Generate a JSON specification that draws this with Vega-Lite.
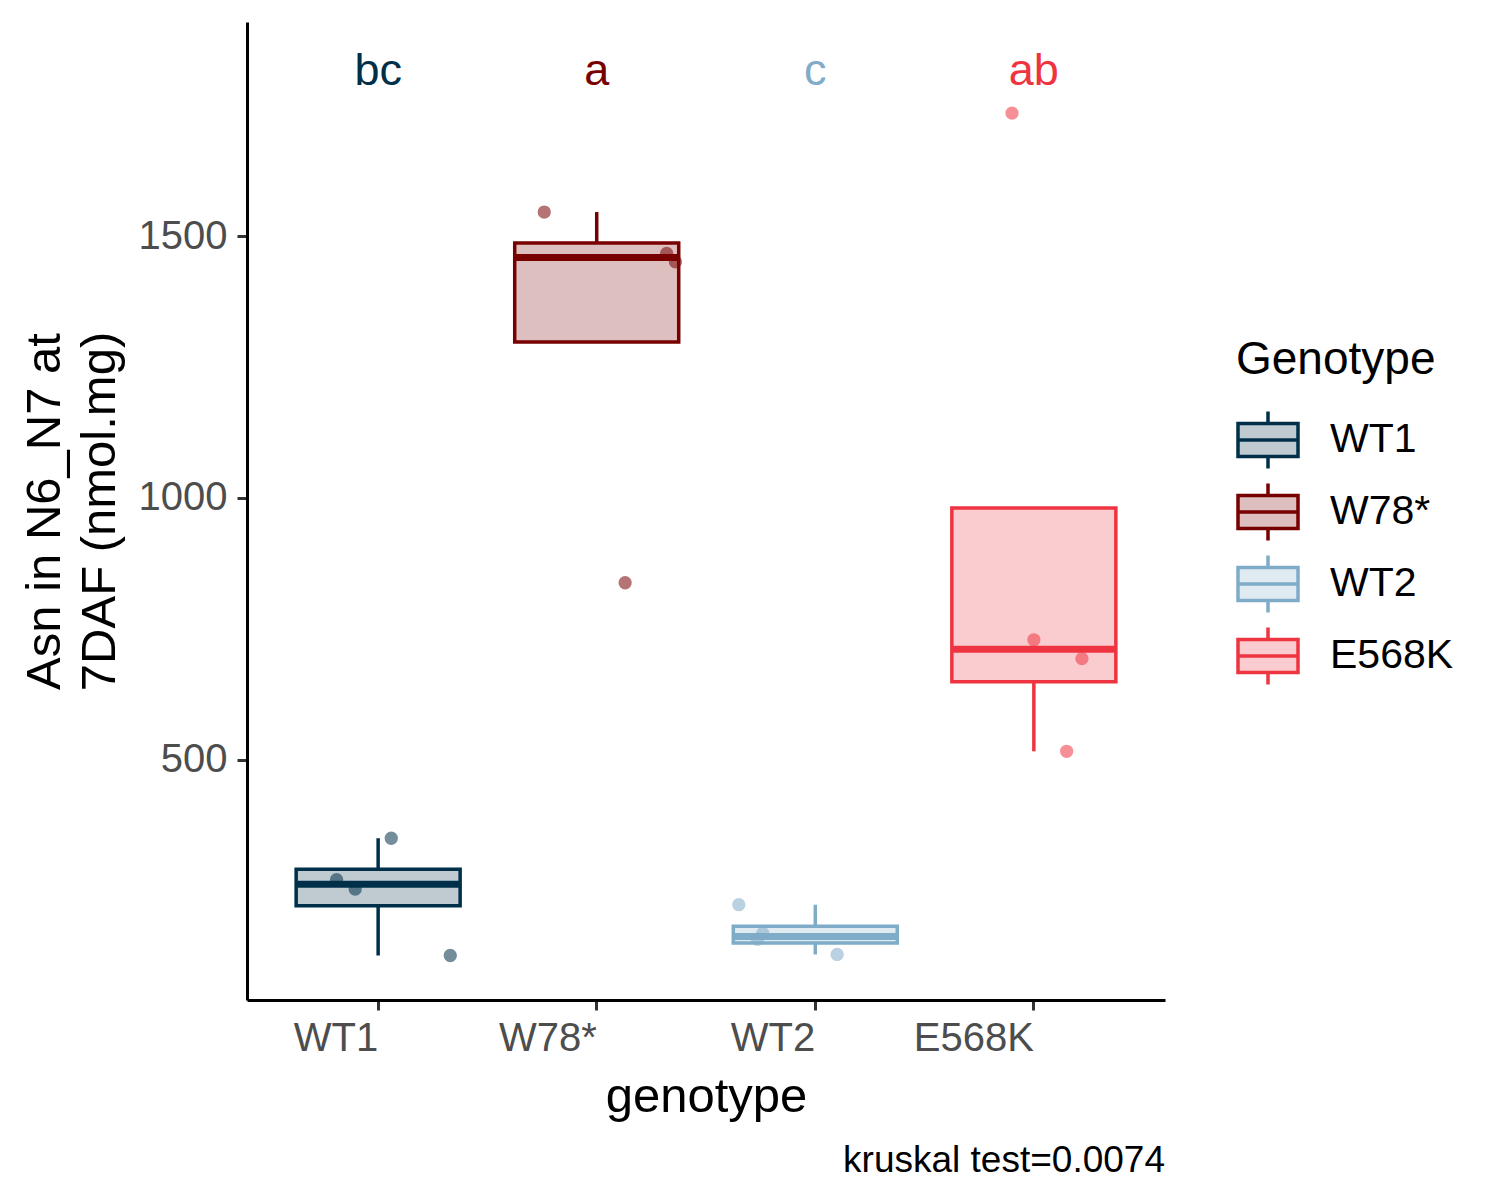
{
  "$schema": "https://vega.github.io/schema/vega-lite/v6.json",
  "width": 918,
  "height": 978,
  "autosize": {"type": "none"},
  "padding": {"left": 247, "top": 22, "right": 335, "bottom": 200},
  "datasets": {
    "asn": [
      {"genotype": "WT1", "value": 350, "jitter": 0.06},
      {"genotype": "WT1", "value": 271, "jitter": -0.19},
      {"genotype": "WT1", "value": 253, "jitter": -0.105},
      {"genotype": "WT1", "value": 126, "jitter": 0.33},
      {"genotype": "W78*", "value": 1546, "jitter": -0.24},
      {"genotype": "W78*", "value": 1467, "jitter": 0.32},
      {"genotype": "W78*", "value": 1451, "jitter": 0.36},
      {"genotype": "W78*", "value": 838, "jitter": 0.13},
      {"genotype": "WT2", "value": 223, "jitter": -0.35},
      {"genotype": "WT2", "value": 168, "jitter": -0.24},
      {"genotype": "WT2", "value": 157, "jitter": -0.265},
      {"genotype": "WT2", "value": 128, "jitter": 0.1},
      {"genotype": "E568K", "value": 1735, "jitter": -0.1},
      {"genotype": "E568K", "value": 729, "jitter": 0.0},
      {"genotype": "E568K", "value": 693, "jitter": 0.22},
      {"genotype": "E568K", "value": 516, "jitter": 0.15}
    ],
    "letters": [
      {"genotype": "WT1", "letter": "bc"},
      {"genotype": "W78*", "letter": "a"},
      {"genotype": "WT2", "letter": "c"},
      {"genotype": "E568K", "letter": "ab"}
    ]
  },
  "data": {"name": "asn"},
  "title": {
    "text": "kruskal test=0.0074",
    "orient": "bottom",
    "anchor": "end",
    "frame": "group",
    "fontSize": 37,
    "fontWeight": "normal",
    "color": "black",
    "offset": 22
  },
  "resolve": {"scale": {"x": "independent"}},
  "layer": [
    {
      "transform": [
        {
          "joinaggregate": [
            {"op": "q1", "field": "value", "as": "q1"},
            {"op": "q3", "field": "value", "as": "q3"},
            {"op": "median", "field": "value", "as": "med"}
          ],
          "groupby": ["genotype"]
        },
        {"filter": "datum.value >= datum.q1 - 1.5 * (datum.q3 - datum.q1) && datum.value <= datum.q3 + 1.5 * (datum.q3 - datum.q1)"},
        {
          "aggregate": [
            {"op": "min", "field": "value", "as": "lo"},
            {"op": "max", "field": "value", "as": "hi"},
            {"op": "max", "field": "q1", "as": "q1"},
            {"op": "max", "field": "q3", "as": "q3"},
            {"op": "max", "field": "med", "as": "med"}
          ],
          "groupby": ["genotype"]
        }
      ],
      "layer": [
        {
          "transform": [{"filter": "datum.hi > datum.q3"}],
          "mark": {"type": "rule", "strokeWidth": 3.5},
          "encoding": {
            "x": {"field": "genotype", "type": "nominal", "scale": {"type": "band", "domain": ["WT1", "W78*", "WT2", "E568K"], "paddingInner": 0, "paddingOuter": 0.1}},
            "y": {
              "field": "q3",
              "type": "quantitative",
              "scale": {"domain": [41, 1909], "nice": false, "zero": false},
              "axis": {"values": [500, 1000, 1500], "format": "d", "title": ["Asn in N6_N7 at", "7DAF (nmol.mg)"]}
            },
            "y2": {"field": "hi"},
            "color": {
              "field": "genotype",
              "type": "nominal",
              "scale": {"domain": ["WT1", "W78*", "WT2", "E568K"], "range": ["#003049", "#780000", "#7FACC8", "#EE3440"]},
              "legend": {
                "title": "Genotype",
                "orient": "none",
                "legendX": 989,
                "legendY": 316,
                "titleFontSize": 46,
                "titleFontWeight": "normal",
                "titleColor": "black",
                "titleLimit": 400,
                "titlePadding": 24,
                "labelFontSize": 41,
                "labelColor": "black",
                "labelOffset": 30,
                "symbolType": "M-1,-0.55H1V0.55H-1Z M-1,0H1 M0,-0.55V-0.95 M0,0.55V0.95",
                "symbolSize": 3600,
                "symbolStrokeWidth": 3.5,
                "rowPadding": 0,
                "encode": {
                  "symbols": {
                    "update": {
                      "fill": {"scale": "color", "field": "value"},
                      "stroke": {"scale": "color", "field": "value"},
                      "fillOpacity": {"value": 0.25},
                      "strokeWidth": {"value": 3.5},
                      "opacity": {"value": 1}
                    }
                  }
                }
              }
            }
          }
        },
        {
          "transform": [{"filter": "datum.lo < datum.q1"}],
          "mark": {"type": "rule", "strokeWidth": 3.5},
          "encoding": {
            "x": {"field": "genotype", "type": "nominal"},
            "y": {"field": "lo", "type": "quantitative", "scale": {"domain": [41, 1909], "nice": false, "zero": false}},
            "y2": {"field": "q1"},
            "color": {"field": "genotype", "type": "nominal"}
          }
        },
        {
          "mark": {"type": "bar", "width": 164, "fillOpacity": 0.25},
          "encoding": {
            "x": {"field": "genotype", "type": "nominal"},
            "y": {"field": "q1", "type": "quantitative", "scale": {"domain": [41, 1909], "nice": false, "zero": false}},
            "y2": {"field": "q3"},
            "color": {"field": "genotype", "type": "nominal"}
          }
        },
        {
          "mark": {"type": "bar", "width": 164, "filled": false, "strokeWidth": 3.5},
          "encoding": {
            "x": {"field": "genotype", "type": "nominal"},
            "y": {"field": "q1", "type": "quantitative", "scale": {"domain": [41, 1909], "nice": false, "zero": false}},
            "y2": {"field": "q3"},
            "color": {"field": "genotype", "type": "nominal"}
          }
        },
        {
          "mark": {"type": "tick", "thickness": 7, "size": 164, "opacity": 1},
          "encoding": {
            "x": {"field": "genotype", "type": "nominal"},
            "y": {"field": "med", "type": "quantitative", "scale": {"domain": [41, 1909], "nice": false, "zero": false}},
            "color": {"field": "genotype", "type": "nominal"}
          }
        },
        {
          "data": {"name": "letters"},
          "transform": [],
          "mark": {"type": "text", "fontSize": 45, "baseline": "middle", "align": "center"},
          "encoding": {
            "x": {"field": "genotype", "type": "nominal"},
            "y": {"datum": 1815, "type": "quantitative", "scale": {"domain": [41, 1909], "nice": false, "zero": false}},
            "text": {"field": "letter"},
            "color": {"field": "genotype", "type": "nominal"}
          }
        }
      ]
    },
    {
      "mark": {"type": "circle", "size": 177, "opacity": 0.55},
      "encoding": {
        "x": {"field": "genotype", "type": "nominal", "axis": null, "scale": {"type": "band", "domain": ["WT1", "W78*", "WT2", "E568K"], "paddingInner": 0, "paddingOuter": 0.1}},
        "xOffset": {"field": "jitter", "type": "quantitative", "scale": {"domain": [-0.5, 0.5]}},
        "y": {"field": "value", "type": "quantitative", "scale": {"domain": [41, 1909], "nice": false, "zero": false}},
        "color": {"field": "genotype", "type": "nominal"}
      }
    }
  ],
  "config": {
    "font": "Liberation Sans",
    "view": {"stroke": null},
    "axis": {
      "grid": false,
      "domainColor": "black",
      "domainWidth": 3,
      "tickColor": "#333333",
      "tickWidth": 3,
      "tickSize": 10,
      "labelFont": "Liberation Sans",
      "labelFontSize": 40,
      "labelColor": "#4D4D4D",
      "titleFont": "Liberation Sans",
      "titleFontSize": 49,
      "titleFontWeight": "normal",
      "titleColor": "black"
    },
    "axisX": {"labelAngle": 0, "labelAlign": "right", "labelPadding": 8, "titlePadding": 14},
    "axisY": {"labelPadding": 10, "titlePadding": 14, "titleLineHeight": 55}
  }
}
